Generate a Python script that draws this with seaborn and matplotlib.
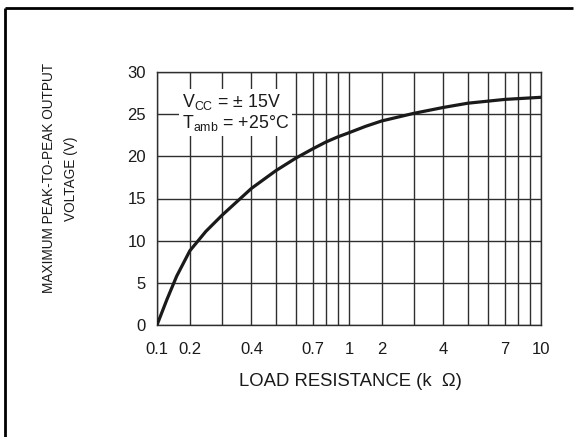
import numpy as np
import pandas as pd
import matplotlib
matplotlib.use("Agg")
import matplotlib.pyplot as plt
from matplotlib.lines import Line2D
import seaborn as sns

# ---- data ----
load_kohm = [0.1, 0.13, 0.16, 0.2, 0.25, 0.3, 0.4, 0.5, 0.6, 0.7, 0.8, 0.9, 1.0,
             1.5, 2.0, 3.0, 4.0, 5.0, 7.0, 10.0]
vout_pp = [0.0, 3.0, 5.8, 8.8, 11.1, 13.0, 16.2, 18.3, 19.8, 20.9, 21.7, 22.3, 22.8,
           23.55, 24.2, 25.1, 25.8, 26.3, 26.75, 27.0]
x_tick_values = [0.1, 0.2, 0.4, 0.7, 1, 2, 4, 7, 10]
x_tick_labels = ["0.1", "0.2", "0.4", "0.7", "1", "2", "4", "7", "10"]
x_grid_values = [0.1, 0.2, 0.3, 0.4, 0.5, 0.6, 0.7, 0.8, 0.9, 1,
                 2, 3, 4, 5, 6, 7, 8, 9, 10]
y_tick_values = [0, 5, 10, 15, 20, 25, 30]

# ---- the chart's (non-ideal) decade scale, as drawn in the datasheet ----
MANT = np.arange(1, 11, dtype=float)
FRAC = np.array([0.0, 0.171, 0.338, 0.492, 0.619, 0.724, 0.812, 0.880, 0.941, 1.0])


def fwd(x):
    x = np.clip(np.asarray(x, dtype=float), 1e-12, None)
    lx = np.log10(x)
    d = np.floor(lx + 1e-12)
    m = x / 10.0 ** d
    return d + np.interp(m, MANT, FRAC)


def inv(y):
    y = np.asarray(y, dtype=float)
    d = np.floor(y + 1e-12)
    m = np.interp(y - d, FRAC, MANT)
    return m * 10.0 ** d


sns.set_style("white")
plt.rcParams["font.family"] = ["Liberation Sans", "DejaVu Sans"]
plt.rcParams["mathtext.fontset"] = "custom"
plt.rcParams["mathtext.rm"] = "Liberation Sans"
plt.rcParams["mathtext.it"] = "Liberation Sans"

fig = plt.figure(figsize=(5.76, 4.37), dpi=100)
fig.patch.set_linewidth(0)
ax = fig.add_axes([157 / 576, 1 - 325 / 437, (541 - 157) / 576, (325 - 72) / 437])

df = pd.DataFrame({"R": load_kohm, "V": vout_pp})
ax.set_xscale("function", functions=(fwd, inv))
sns.lineplot(data=df, x="R", y="V", ax=ax, color="#1a1a1a", linewidth=2.3,
             zorder=5, sort=True, estimator=None)

ax.set_xlim(0.1, 10)
ax.set_ylim(0, 30)
ax.set_xticks(x_tick_values)
ax.set_xticklabels(x_tick_labels)
ax.set_xticks(x_grid_values, minor=True)
ax.set_yticks(y_tick_values)

ax.grid(True, which="both", axis="x", color="#2e2e2e", linewidth=1.0)
ax.grid(True, which="major", axis="y", color="#2e2e2e", linewidth=1.0)
ax.tick_params(axis="both", which="both", length=0, labelsize=12, colors="#1a1a1a")
ax.tick_params(axis="x", pad=12)
ax.tick_params(axis="y", pad=8)
for s in ax.spines.values():
    s.set_color("#2e2e2e")
    s.set_linewidth(1.0)

ax.set_xlabel("LOAD RESISTANCE (k  Ω)", fontsize=13.3, color="#1a1a1a")
ax.xaxis.label.set_va("center")
ax.xaxis.set_label_coords(0.503, -0.225)
ax.set_ylabel("MAXIMUM PEAK-TO-PEAK OUTPUT\nVOLTAGE (V)", fontsize=9.8,
              color="#1a1a1a", linespacing=1.75)
ax.yaxis.label.set_va("center")
ax.yaxis.set_label_coords(-0.253, 0.58)

ax.text(0.065, 0.84, "V$_{\\rm CC}$ = ± 15V\nT$_{\\rm amb}$ = +25°C",
        transform=ax.transAxes, fontsize=12.8, color="#1a1a1a", va="center",
        ha="left", linespacing=1.05, zorder=6,
        bbox=dict(facecolor="white", edgecolor="none", pad=2.0))

# outer frame of the datasheet figure (cropped on the right and bottom)
y_top = 1 - 7.5 / 437
x_left = 4.5 / 576
fig.lines.append(Line2D([x_left, 0.995], [y_top, y_top], transform=fig.transFigure,
                        color="black", linewidth=2.0, solid_capstyle="butt"))
fig.lines.append(Line2D([x_left, x_left], [y_top, 0.0], transform=fig.transFigure,
                        color="black", linewidth=2.0, solid_capstyle="butt"))

fig.savefig("out.png", dpi=100, facecolor="white")
